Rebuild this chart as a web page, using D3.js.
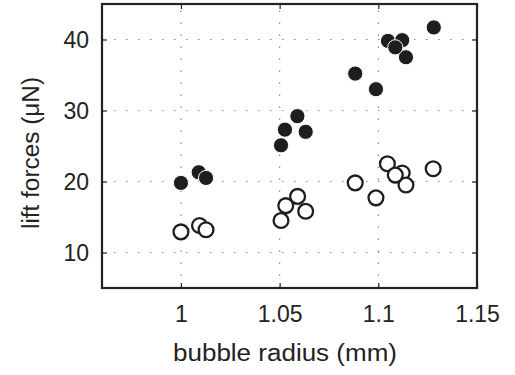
<!DOCTYPE html>
<html><head><meta charset="utf-8">
<script src="https://cdn.jsdelivr.net/npm/d3@7"></script>
<style>body{margin:0;background:#fff}svg{display:block}text{font-family:"Liberation Sans",Arial,sans-serif;fill:#222}</style>
</head><body>
<svg id="c" width="515" height="375"></svg>
<script>
const xTicks = [1, 1.05, 1.1, 1.15];
const xTickLabels = ["1", "1.05", "1.1", "1.15"];
const yTicks = [10, 20, 30, 40];
const yTickLabels = ["10", "20", "30", "40"];
const xLabel = "bubble radius (mm)";
const yLabel = "lift forces (\u03BCN)";

const filledX = [1.0, 1.009, 1.0127, 1.0507, 1.0527, 1.059, 1.0632, 1.0883, 1.0988, 1.1049, 1.1121, 1.1140, 1.1086, 1.1281];
const filledY = [19.8, 21.3, 20.5, 25.1, 27.3, 29.2, 27.0, 35.2, 33.0, 39.8, 39.9, 37.5, 38.9, 41.7];
const openX = [1.0, 1.0094, 1.0127, 1.0531, 1.0507, 1.0591, 1.0632, 1.0883, 1.0988, 1.1046, 1.1121, 1.1140, 1.1086, 1.1278];
const openY = [12.9, 13.8, 13.2, 16.6, 14.5, 17.9, 15.8, 19.8, 17.7, 22.5, 21.2, 19.5, 20.9, 21.8];

const L = 102, R = 477, T = 4, B = 288;
const x = d3.scaleLinear().domain([0.96, 1.15]).range([L, R]);
const y = d3.scaleLinear().domain([5, 45]).range([B, T]);
const svg = d3.select("#c");
const FS = "23px";

// grid
const grid = svg.append("g").attr("stroke", "#8a8a8a").attr("stroke-width", 1.2).attr("stroke-dasharray", "1.5,10.5");
grid.selectAll("line.gx").data(xTicks.filter(v => v < 1.15)).join("line")
  .attr("x1", d => x(d)).attr("x2", d => x(d)).attr("y1", B).attr("y2", T);
grid.selectAll("line.gy").data(yTicks).join("line")
  .attr("y1", d => y(d)).attr("y2", d => y(d)).attr("x1", L).attr("x2", R);

// axes with ticks
const fmtX = (d, i) => xTickLabels[i];
const fmtY = (d, i) => yTickLabels[i];
const axB = svg.append("g").attr("transform", `translate(0,${B})`)
  .call(d3.axisBottom(x).tickValues(xTicks).tickFormat(fmtX).tickSize(-5).tickPadding(16));
const axL = svg.append("g").attr("transform", `translate(${L},0)`)
  .call(d3.axisLeft(y).tickValues(yTicks).tickFormat(fmtY).tickSize(-5).tickPadding(13));
const axT = svg.append("g").attr("transform", `translate(0,${T})`)
  .call(d3.axisTop(x).tickValues(xTicks).tickFormat("").tickSize(-5));
const axR = svg.append("g").attr("transform", `translate(${R},0)`)
  .call(d3.axisRight(y).tickValues(yTicks).tickFormat("").tickSize(-5));
[axB, axL, axT, axR].forEach(a => {
  a.select(".domain").remove();
  a.selectAll(".tick line").attr("stroke", "#222").attr("stroke-width", 1.2);
  a.selectAll("text").style("font-size", FS).attr("fill", "#222");
});
axB.selectAll("text").attr("y", 0).attr("dy", 0).attr("transform", "translate(0,33.5)");
axL.selectAll("text").attr("dy", "0.36em");

svg.append("rect").attr("x", L).attr("y", T).attr("width", R - L).attr("height", B - T)
  .attr("fill", "none").attr("stroke", "#222").attr("stroke-width", 2.2);

// points
svg.append("g").selectAll("circle").data(filledX).join("circle")
  .attr("cx", d => x(d)).attr("cy", (d, i) => y(filledY[i])).attr("r", 7.6)
  .attr("fill", "#1e1e1e").attr("stroke", "#fff").attr("stroke-width", 1);
svg.append("g").selectAll("circle").data(openX).join("circle")
  .attr("cx", d => x(d)).attr("cy", (d, i) => y(openY[i])).attr("r", 7.4)
  .attr("fill", "#fff").attr("stroke", "#1e1e1e").attr("stroke-width", 2.3);

// labels
svg.append("text").attr("x", 285).attr("y", 361).attr("text-anchor", "middle")
  .attr("textLength", 224).attr("lengthAdjust", "spacingAndGlyphs")
  .style("font-size", FS).text(xLabel);
svg.append("text").attr("transform", "translate(39,153) rotate(-90)").attr("text-anchor", "middle")
  .attr("textLength", 152).attr("lengthAdjust", "spacingAndGlyphs")
  .style("font-size", FS).text(yLabel);
</script>
</body></html>
